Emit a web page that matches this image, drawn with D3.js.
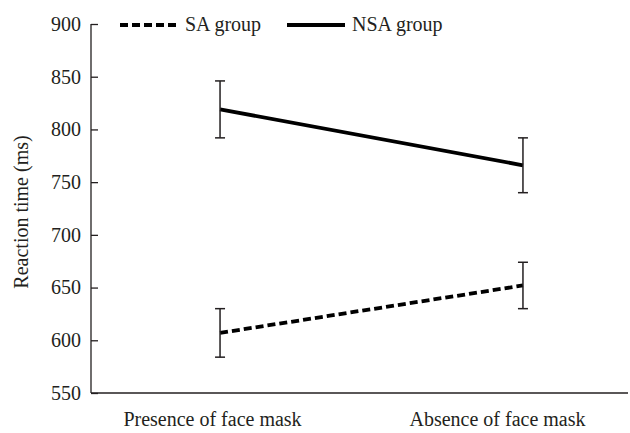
<!DOCTYPE html>
<html>
<head>
<meta charset="utf-8">
<script src="https://cdn.jsdelivr.net/npm/d3@7"></script>
<style>
  body { margin: 0; background: #fff; }
  svg text { font-family: 'Liberation Serif', serif; fill: #231f20; }
</style>
</head>
<body>
<svg id="chart"></svg>
<script>
var conditions = ["Presence of face mask", "Absence of face mask"];
var groups = ["SA group", "NSA group"];
var saMeans = [607, 652];
var saErrors = [23, 22];
var nsaMeans = [819, 766];
var nsaErrors = [27, 26];
var yTicks = [550, 600, 650, 700, 750, 800, 850, 900];

var width = 630, height = 433;
var margin = {top: 24, bottom: 40, left: 91, right: 2};

var svg = d3.select("#chart")
    .attr("width", width)
    .attr("height", height);

var yScale = d3.scaleLinear()
    .domain([550, 900])
    .range([height - margin.bottom, margin.top]);

// points on a point scale, labels on a band scale (labels sit left of the points in the original)
var xScale = d3.scalePoint()
    .domain(conditions)
    .range([margin.left, 652])
    .padding(0.426);

var labelScale = d3.scaleBand()
    .domain(conditions)
    .range([70, 640]);

var series = [
    {name: groups[0], means: saMeans, errors: saErrors, dash: "8,4"},
    {name: groups[1], means: nsaMeans, errors: nsaErrors, dash: null}
];

// y axis
var yAxis = d3.axisLeft(yScale).tickValues(yTicks).tickSize(-7).tickPadding(10);
var gy = svg.append("g")
    .attr("transform", "translate(" + margin.left + ",0)")
    .call(yAxis);
gy.select(".domain").remove();
gy.selectAll("line").attr("stroke", "#231f20").attr("stroke-width", 1.3);
gy.selectAll("text").style("font-size", "20px");

svg.append("line")
    .attr("x1", margin.left).attr("x2", margin.left)
    .attr("y1", yScale(900)).attr("y2", yScale(550))
    .attr("stroke", "#231f20").attr("stroke-width", 1.3);

// x axis line
svg.append("line")
    .attr("x1", margin.left).attr("x2", width - margin.right)
    .attr("y1", yScale(550)).attr("y2", yScale(550))
    .attr("stroke", "#231f20").attr("stroke-width", 1.3);

svg.selectAll(".xlabel")
    .data(conditions)
    .enter().append("text")
    .attr("class", "xlabel")
    .attr("x", function (d) { return labelScale(d) + labelScale.bandwidth() / 2; })
    .attr("y", 426)
    .attr("text-anchor", "middle")
    .style("font-size", "20px")
    .text(function (d) { return d; });

svg.append("text")
    .attr("transform", "translate(28,212)rotate(-90)")
    .attr("text-anchor", "middle")
    .style("font-size", "20px")
    .text("Reaction time (ms)");

// lines + error bars
var line = d3.line()
    .x(function (d, i) { return xScale(conditions[i]); })
    .y(function (d) { return yScale(d); });

series.forEach(function (s) {
    svg.append("path")
        .datum(s.means)
        .attr("d", line)
        .attr("fill", "none")
        .attr("stroke", "#000")
        .attr("stroke-width", 3.8)
        .attr("stroke-dasharray", s.dash);

    var eb = svg.append("g").selectAll("g")
        .data(s.means)
        .enter().append("g");
    eb.append("line")
        .attr("x1", function (d, i) { return xScale(conditions[i]); })
        .attr("x2", function (d, i) { return xScale(conditions[i]); })
        .attr("y1", function (d, i) { return yScale(d + s.errors[i]); })
        .attr("y2", function (d, i) { return yScale(d - s.errors[i]); })
        .attr("stroke", "#231f20").attr("stroke-width", 1.5);
    [1, -1].forEach(function (sign) {
        eb.append("line")
            .attr("x1", function (d, i) { return xScale(conditions[i]) - 5; })
            .attr("x2", function (d, i) { return xScale(conditions[i]) + 5; })
            .attr("y1", function (d, i) { return yScale(d + sign * s.errors[i]); })
            .attr("y2", function (d, i) { return yScale(d + sign * s.errors[i]); })
            .attr("stroke", "#231f20").attr("stroke-width", 1.5);
    });
});

// legend
var legendX = [120, 287];
var legend = svg.selectAll(".legend")
    .data(series)
    .enter().append("g")
    .attr("class", "legend")
    .attr("transform", function (d, i) { return "translate(" + legendX[i] + ",25)"; });
legend.append("line")
    .attr("x1", 0).attr("x2", 58)
    .attr("stroke", "#000")
    .attr("stroke-width", 3.8)
    .attr("stroke-dasharray", function (d) { return d.dash; });
legend.append("text")
    .attr("x", 65)
    .attr("y", 6)
    .style("font-size", "20px")
    .text(function (d) { return d.name; });
</script>
</body>
</html>
